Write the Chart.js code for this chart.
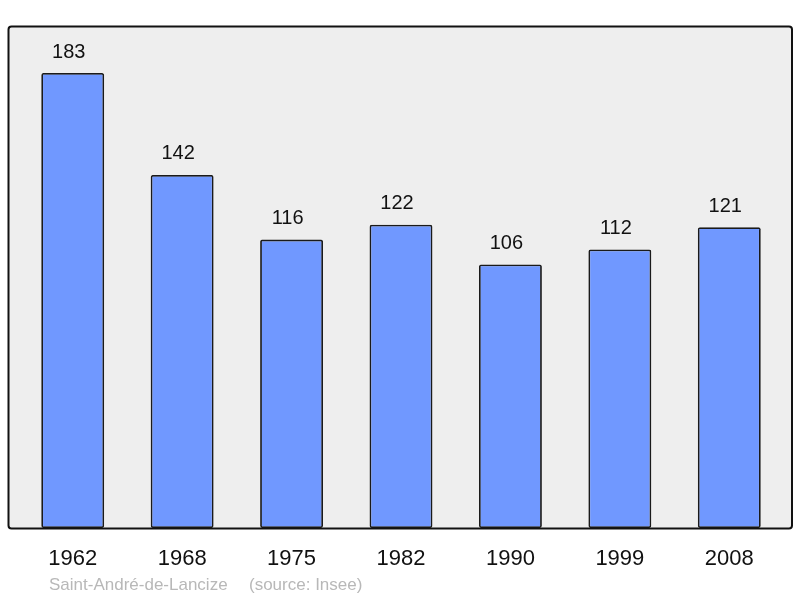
<!DOCTYPE html>
<html>
<head>
<meta charset="utf-8">
<script src="https://cdn.jsdelivr.net/npm/chart.js@4"></script>
<style>
  html, body { margin: 0; padding: 0; background: #fff; }
  #wrap { width: 800px; height: 598px; position: relative; }
</style>
</head>
<body>
<div id="wrap"><canvas id="chart" width="800" height="598"></canvas></div>
<script>
const years = ['1962', '1968', '1975', '1982', '1990', '1999', '2008'];
const population = [183, 142, 116, 122, 106, 112, 121];
const commune = 'Saint-André-de-Lancize';
const source = '(source: Insee)';

function roundRect(ctx, x, y, w, h, r) {
  ctx.beginPath();
  ctx.moveTo(x + r, y);
  ctx.lineTo(x + w - r, y);
  ctx.quadraticCurveTo(x + w, y, x + w, y + r);
  ctx.lineTo(x + w, y + h - r);
  ctx.quadraticCurveTo(x + w, y + h, x + w - r, y + h);
  ctx.lineTo(x + r, y + h);
  ctx.quadraticCurveTo(x, y + h, x, y + h - r);
  ctx.lineTo(x, y + r);
  ctx.quadraticCurveTo(x, y, x + r, y);
  ctx.closePath();
}

// plot frame sits a bit wider than the category area
const framePlugin = {
  id: 'frame',
  beforeDatasetsDraw(chart) {
    const { ctx, chartArea: a } = chart;
    ctx.save();
    roundRect(ctx, a.left - 9.5, a.top - 0.5, a.right - a.left + 17.5, a.bottom - a.top + 1, 3);
    ctx.fillStyle = '#eeeeee';
    ctx.fill();
    ctx.restore();
  },
  afterDatasetsDraw(chart) {
    const { ctx, chartArea: a } = chart;
    ctx.save();
    roundRect(ctx, a.left - 9.5, a.top - 0.5, a.right - a.left + 17.5, a.bottom - a.top + 1, 3);
    ctx.lineWidth = 2;
    ctx.strokeStyle = '#111';
    ctx.stroke();

    // value labels
    const meta = chart.getDatasetMeta(0);
    ctx.fillStyle = '#111';
    ctx.font = '20px "Liberation Sans", Arial, sans-serif';
    ctx.textAlign = 'center';
    ctx.textBaseline = 'middle';
    meta.data.forEach((bar, i) => {
      ctx.fillText(String(population[i]), bar.x - 4, bar.y - 21);
    });

    // footer
    ctx.fillStyle = '#b8b8b8';
    ctx.font = '17px "Liberation Sans", Arial, sans-serif';
    ctx.textAlign = 'left';
    ctx.fillText(commune, 49, 585);
    ctx.fillText(source, 249, 585);
    ctx.restore();
  }
};

new Chart(document.getElementById('chart'), {
  type: 'bar',
  data: {
    labels: years,
    datasets: [{
      data: population,
      backgroundColor: '#7098ff',
      borderColor: '#1a1a1a',
      borderWidth: 1.8,
      borderRadius: 2,
      borderSkipped: false,
      barPercentage: 0.575,
      categoryPercentage: 1
    }]
  },
  options: {
    responsive: false,
    animation: false,
    layout: { padding: { left: 18, right: 16, top: 27, bottom: 0 } },
    plugins: { legend: { display: false }, tooltip: { enabled: false } },
    scales: {
      x: {
        grid: { display: false, drawTicks: false },
        border: { display: false },
        ticks: {
          color: '#111',
          font: { size: 22, family: '"Liberation Sans", Arial, sans-serif' },
          padding: 18,
          maxRotation: 0
        },
        afterFit(scale) { scale.height = 70; }
      },
      y: {
        display: false,
        min: 0,
        max: 201.5
      }
    }
  },
  plugins: [framePlugin]
});
</script>
</body>
</html>
